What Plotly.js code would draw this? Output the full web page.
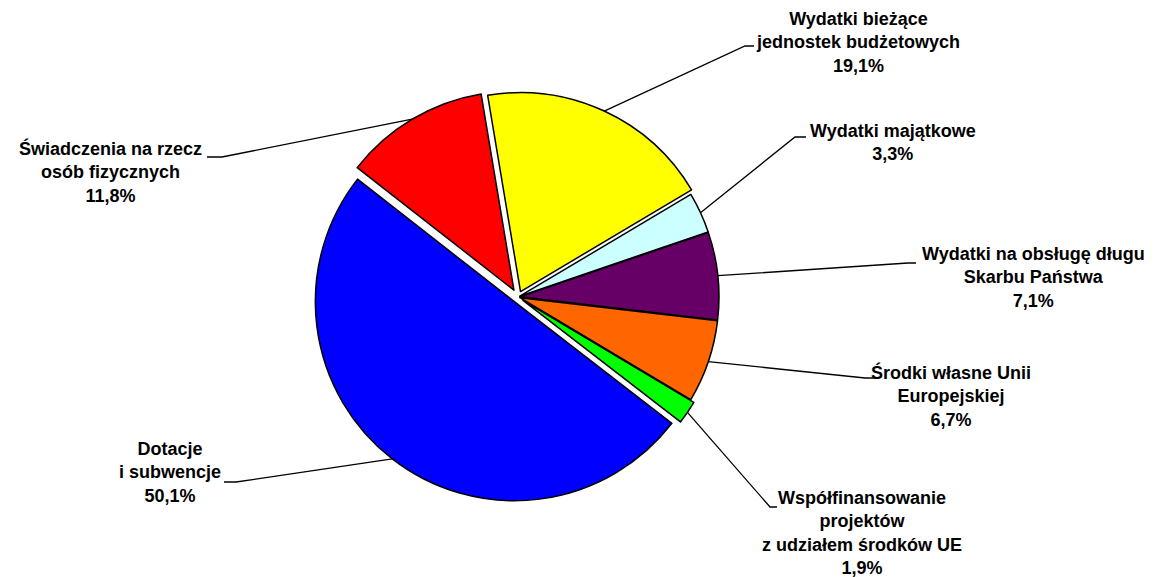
<!DOCTYPE html>
<html>
<head>
<meta charset="utf-8">
<script src="https://cdn.plot.ly/plotly-3.0.1.min.js"></script>
<style>html,body{margin:0;padding:0;background:#fff}#chart{width:1156px;height:577px}</style>
</head>
<body>
<div id="chart"></div>
<script>
// ---- data ----
const labels = [
  "Wydatki bieżące<br>jednostek budżetowych",
  "Wydatki majątkowe",
  "Wydatki na obsługę długu<br>Skarbu Państwa",
  "Środki własne Unii<br>Europejskiej",
  "Współfinansowanie<br>projektów<br>z udziałem środków UE",
  "Dotacje<br>i subwencje",
  "Świadczenia na rzecz<br>osób fizycznych"
];
const values = [19.1, 3.3, 7.1, 6.7, 1.9, 50.1, 11.8];
const valueLabels = ["19,1%", "3,3%", "7,1%", "6,7%", "1,9%", "50,1%", "11,8%"];
const colors = ["#FFFF00", "#CCFFFF", "#660066", "#FF6600", "#00FF00", "#0000FF", "#FF0000"];
const pulls = [0.03, 0.01, 0.01, 0.01, 0.03, 0.03, 0.04];

// ---- layout (pixel positions of label blocks and leader elbows) ----
const textPos = [[858, 42], [893, 142], [1033, 278], [951, 396], [862, 533], [170, 472], [110, 172]];
const elbowA = [[745, 46], [795, 137], [908, 263], [865, 378], [770, 507], [236, 482], [222, 157]];
const elbowB = [[754, 46], [806, 137], [916, 263], [874, 378], [777, 507], [224, 482], [207, 157]];

const W = 1156, H = 577;
const cx = 518, cy = 297, R = 199, rotation = -9.5;
const maxPull = Math.max(...pulls);
const half = R * (1 + maxPull);
const px2x = p => p / W, px2y = p => 1 - p / H;

const trace = {
  type: 'pie',
  labels: labels,
  values: values,
  sort: false,
  direction: 'clockwise',
  rotation: rotation,
  pull: pulls,
  textinfo: 'none',
  hoverinfo: 'none',
  showlegend: false,
  marker: {colors: colors, line: {color: '#000000', width: 1.5}},
  domain: {x: [px2x(cx - half), px2x(cx + half)], y: [px2y(cy + half), px2y(cy - half)]}
};

const total = values.reduce((a, b) => a + b, 0);
let cum = 0;
const shapes = [], annotations = [];
values.forEach((v, i) => {
  const mid = (rotation + (cum + v / 2) / total * 360) * Math.PI / 180;
  cum += v;
  const rr = R * (1 + pulls[i]);
  const tx = cx + rr * Math.sin(mid), ty = cy - rr * Math.cos(mid);
  shapes.push({
    type: 'path', xref: 'paper', yref: 'paper',
    path: `M ${px2x(tx)} ${px2y(ty)} L ${px2x(elbowA[i][0])} ${px2y(elbowA[i][1])} L ${px2x(elbowB[i][0])} ${px2y(elbowB[i][1])}`,
    line: {color: '#000000', width: 1.3}
  });
  annotations.push({
    xref: 'paper', yref: 'paper',
    x: px2x(textPos[i][0]), y: px2y(textPos[i][1]),
    xanchor: 'center', yanchor: 'middle', align: 'center',
    showarrow: false,
    text: labels[i] + '<br>' + valueLabels[i],
    font: {family: 'Liberation Sans, Arial, sans-serif', size: 18, color: '#000000', weight: 700}
  });
});

const layout = {
  width: W, height: H,
  margin: {l: 0, r: 0, t: 0, b: 0},
  paper_bgcolor: '#ffffff',
  plot_bgcolor: '#ffffff',
  shapes: shapes,
  annotations: annotations
};
Plotly.newPlot('chart', [trace], layout, {displayModeBar: false, staticPlot: true});
</script>
</body>
</html>
